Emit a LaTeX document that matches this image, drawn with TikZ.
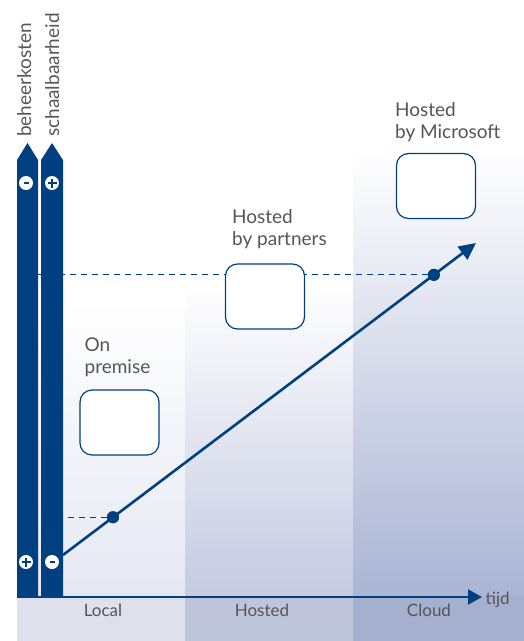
\documentclass[tikz,border=0pt]{standalone}
\usepackage{fontspec}
\setmainfont{Lato}
\usetikzlibrary{arrows.meta,positioning,calc}

\definecolor{barblue}{RGB}{0,64,128}
\definecolor{txtgrey}{RGB}{85,85,90}
\definecolor{localbg}{RGB}{229,232,243}
\definecolor{hostbg}{RGB}{196,202,225}
\definecolor{cloudbg}{RGB}{170,180,212}

\tikzset{
  bar/.style={fill=barblue},
  sign/.style={circle,fill=white,minimum size=14pt,inner sep=0pt},
  plus/.style={sign,path picture={
      \draw[barblue,line width=1.6pt] ([xshift=-4.5pt]path picture bounding box.center) -- ([xshift=4.5pt]path picture bounding box.center);
      \draw[barblue,line width=1.6pt] ([yshift=-4.5pt]path picture bounding box.center) -- ([yshift=4.5pt]path picture bounding box.center);}},
  minus/.style={sign,path picture={
      \draw[barblue,line width=2pt] ([xshift=-2.5pt]path picture bounding box.center) -- ([xshift=2.5pt]path picture bounding box.center);}},
  stage/.style={draw=barblue,line width=1.2pt,fill=white,rounded corners=12pt,minimum width=79pt,minimum height=65pt},
  lbl/.style={text=txtgrey,align=left,inner sep=0pt,font=\fontsize{19}{22}\selectfont},
  col/.style={text=txtgrey,font=\fontsize{17}{17}\selectfont},
  dot/.style={circle,fill=barblue,minimum size=12pt,inner sep=0pt},
  guide/.style={barblue,line width=1.2pt,dash pattern=on 6pt off 5pt}
}

\begin{document}
\begin{tikzpicture}[x=1pt,y=-1pt]
    \useasboundingbox (0,0) rectangle (524,641);

    % columns
    \shade[top color=white,bottom color=localbg] (17,300) rectangle (185,597);
    \shade[top color=white,bottom color=hostbg]  (185,283) rectangle (353,597);
    \shade[top color=white,bottom color=cloudbg] (353,150) rectangle (524,597);
    \fill[localbg!97!black] (17,597) rectangle (185,641);
    \fill[hostbg!97!black]  (185,597) rectangle (353,641);
    \fill[cloudbg!97!black] (353,597) rectangle (524,641);

    \coordinate (b1) at (38,597);
    \coordinate (b2) at (63,597);
    \coordinate (start) at (63,555);
    \coordinate (end) at (476,243);

    \node[dot] (dotlow)  at ($(start)!0.121!(end)$) {};
    \node[dot] (dothigh) at ($(start)!0.898!(end)$) {};

    % dashed guides
    \draw[guide] (dothigh) -- (dothigh -| b1);
    \draw[guide] (dotlow) -- (dotlow -| b2);

    % bars
    \fill[bar] (17,597) -- (17,160) -- (27.5,143) -- (38,160) -- (38,597) -- cycle;
    \fill[bar] (41,597) -- (41,160) -- (52,143) -- (63,160) -- (63,597) -- cycle;
    \node[minus] (kmin)  at (26,183) {};
    \node[plus]  (splus) at (52,183) {};
    \node[plus]  (kplus) at (26,562) {};
    \node[minus] (smin)  at (52,562) {};

    \node[lbl,rotate=90,anchor=north west] (kost)   at (17,137) {beheerkosten};
    \node[lbl,rotate=90,anchor=north west] (schaal) at (45,137) {schaalbaarheid};

    % axis
    \coordinate (origin) at (17,597);
    \coordinate (axend) at (482,597);
    \draw[barblue,line width=2pt,-{Triangle[length=14pt,width=15pt]}] (origin) -- (axend);
    \node[col,anchor=west] (tijd) at ([yshift=-3pt]axend) {tijd};
    \node[col] (local)  at (103,610) {Local};
    \node[col] (hosted) at (262,610) {Hosted};
    \node[col] (cloud)  at (429,610) {Cloud};

    % growth
    \draw[barblue,line width=2.6pt,-{Triangle[length=17pt,width=16pt]}] (start) -- (end);
    \node[dot] at (dotlow) {};
    \node[dot] at (dothigh) {};

    % stages
    \node[stage] (onprem)    at (119.5,422.5) {};
    \node[stage] (partners)  at (265,296.5) {};
    \node[stage] (microsoft) at (436,186) {};

    \node[lbl,anchor=south west] at ([xshift=5pt,yshift=12pt]onprem.north west) {On\\premise};
    \node[lbl,anchor=south west] at ([xshift=7pt,yshift=14pt]partners.north west) {Hosted\\by partners};
    \node[lbl,anchor=south west] at ([xshift=-1pt,yshift=11pt]microsoft.north west) {Hosted\\by Microsoft};
\end{tikzpicture}
\end{document}
